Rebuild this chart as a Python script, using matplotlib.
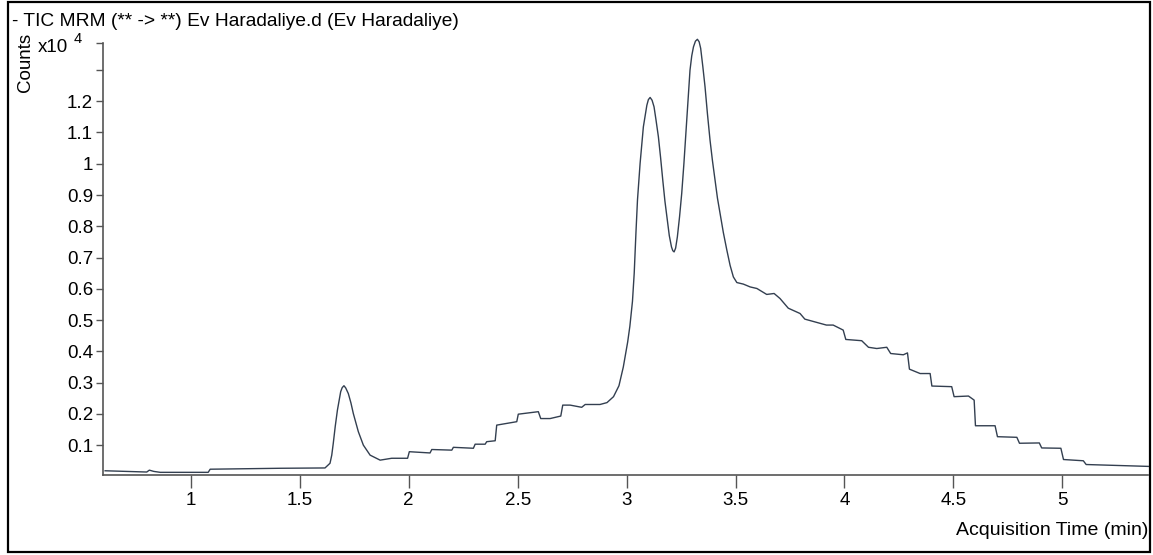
"""TIC MRM chromatogram (Ev Haradaliye) redrawn with matplotlib."""
import matplotlib
matplotlib.use("Agg")
import matplotlib.pyplot as plt
from matplotlib.patches import Rectangle

# retention time (min) and counts in units of 10^4
time_min = [
    0.607, 0.70, 0.798, 0.81, 0.83, 0.86, 1.08, 1.089, 1.41, 1.616,
    1.639, 1.647, 1.654, 1.663, 1.673, 1.688, 1.695, 1.703, 1.711, 1.723,
    1.735, 1.746, 1.769, 1.792, 1.823, 1.869, 1.922, 1.995, 2.003, 2.098,
    2.106, 2.198, 2.205, 2.297, 2.305, 2.351, 2.358, 2.397, 2.404, 2.496,
    2.503, 2.572, 2.595, 2.606, 2.649, 2.698, 2.707, 2.741, 2.794, 2.81,
    2.878, 2.91, 2.94, 2.965, 2.985, 3.005, 3.015, 3.027, 3.035, 3.043,
    3.05, 3.062, 3.077, 3.093, 3.10, 3.108, 3.117, 3.126, 3.135, 3.146,
    3.156, 3.166, 3.176, 3.187, 3.196, 3.206, 3.212, 3.218, 3.225, 3.233,
    3.243, 3.253, 3.263, 3.273, 3.282, 3.291, 3.299, 3.307, 3.316, 3.325,
    3.333, 3.34, 3.35, 3.36, 3.371, 3.383, 3.394, 3.406, 3.417, 3.429,
    3.444, 3.46, 3.475, 3.49, 3.506, 3.536, 3.567, 3.598, 3.643, 3.677,
    3.704, 3.742, 3.796, 3.818, 3.917, 3.948, 3.994, 4.006, 4.079, 4.11,
    4.148, 4.194, 4.212, 4.27, 4.289, 4.298, 4.347, 4.393, 4.401, 4.492,
    4.503, 4.569, 4.595, 4.601, 4.691, 4.702, 4.791, 4.803, 4.894, 4.905,
    4.993, 5.005, 5.096, 5.109, 5.25, 5.394,
]
counts_e4 = [
    0.018, 0.016, 0.014, 0.020, 0.016, 0.013, 0.013, 0.023, 0.026, 0.027,
    0.042, 0.068, 0.106, 0.160, 0.212, 0.271, 0.284, 0.290, 0.283, 0.265,
    0.235, 0.201, 0.143, 0.100, 0.068, 0.052, 0.058, 0.058, 0.079, 0.075,
    0.086, 0.084, 0.093, 0.090, 0.103, 0.103, 0.111, 0.114, 0.164, 0.175,
    0.199, 0.205, 0.207, 0.185, 0.185, 0.193, 0.228, 0.228, 0.221, 0.230,
    0.230, 0.236, 0.255, 0.290, 0.350, 0.430, 0.480, 0.560, 0.650, 0.780,
    0.884, 1.001, 1.118, 1.187, 1.205, 1.212, 1.203, 1.182, 1.140, 1.086,
    1.020, 0.948, 0.880, 0.820, 0.770, 0.734, 0.722, 0.718, 0.730, 0.766,
    0.830, 0.905, 1.000, 1.107, 1.200, 1.299, 1.345, 1.374, 1.392, 1.398,
    1.390, 1.369, 1.310, 1.246, 1.160, 1.075, 1.010, 0.948, 0.890, 0.841,
    0.780, 0.724, 0.675, 0.638, 0.620, 0.615, 0.606, 0.601, 0.582, 0.585,
    0.569, 0.538, 0.521, 0.503, 0.484, 0.484, 0.468, 0.438, 0.434, 0.413,
    0.409, 0.413, 0.393, 0.389, 0.395, 0.343, 0.329, 0.329, 0.289, 0.287,
    0.255, 0.257, 0.244, 0.162, 0.162, 0.127, 0.125, 0.106, 0.107, 0.091,
    0.090, 0.054, 0.050, 0.038, 0.035, 0.032,
]

x_ticks = [1, 1.5, 2, 2.5, 3, 3.5, 4, 4.5, 5]
x_tick_labels = ["1", "1.5", "2", "2.5", "3", "3.5", "4", "4.5", "5"]
y_ticks = [0.1, 0.2, 0.3, 0.4, 0.5, 0.6, 0.7, 0.8, 0.9, 1.0, 1.1, 1.2, 1.3, 1.387]
y_tick_labels = ["0.1", "0.2", "0.3", "0.4", "0.5", "0.6", "0.7", "0.8",
                 "0.9", "1", "1.1", "1.2", "", ""]

title = "- TIC MRM (** -> **) Ev Haradaliye.d (Ev Haradaliye)"

plt.rcParams["font.family"] = ["Liberation Sans", "DejaVu Sans"]

fig = plt.figure(figsize=(11.53, 5.55), dpi=100)
ax = fig.add_axes([0.0891, 0.145, 0.9066, 0.778])

ax.plot(time_min, counts_e4, color="#333f50", lw=1.0, clip_on=False,
        solid_joinstyle="round")
ax.set_xlim(0.596, 5.393)
ax.set_ylim(0.006, 1.387)

ax.set_xticks(x_ticks)
ax.set_xticklabels(x_tick_labels)
ax.set_yticks(y_ticks)
ax.set_yticklabels(y_tick_labels)
ax.tick_params(axis="x", direction="out", length=9.5, width=1, color="#555555",
               labelsize=13.5, pad=3)
ax.tick_params(axis="y", direction="out", length=5, width=1, color="#555555",
               labelsize=13.5, pad=2)

for side in ("top", "right"):
    ax.spines[side].set_visible(False)
for side in ("left", "bottom"):
    ax.spines[side].set_color("#555555")
    ax.spines[side].set_linewidth(1.2)

# outer frame round the whole picture
fig.patches.append(Rectangle((0.0068, 0.006), 0.9905, 0.991, transform=fig.transFigure,
                             fill=False, edgecolor="black", lw=1.6))

fig.text(0.0104, 0.962, title, fontsize=13.8, va="center", ha="left")
fig.text(0.0217, 0.888, "Counts", fontsize=13.5, rotation=90, va="center", ha="center")
fig.text(0.033, 0.914, "x10", fontsize=13.5, va="center", ha="left")
fig.text(0.0635, 0.929, "4", fontsize=10.5, va="center", ha="left")
fig.text(0.9957, 0.044, "Acquisition Time (min)", fontsize=14, va="center", ha="right")

fig.savefig("out.png", dpi=100)
